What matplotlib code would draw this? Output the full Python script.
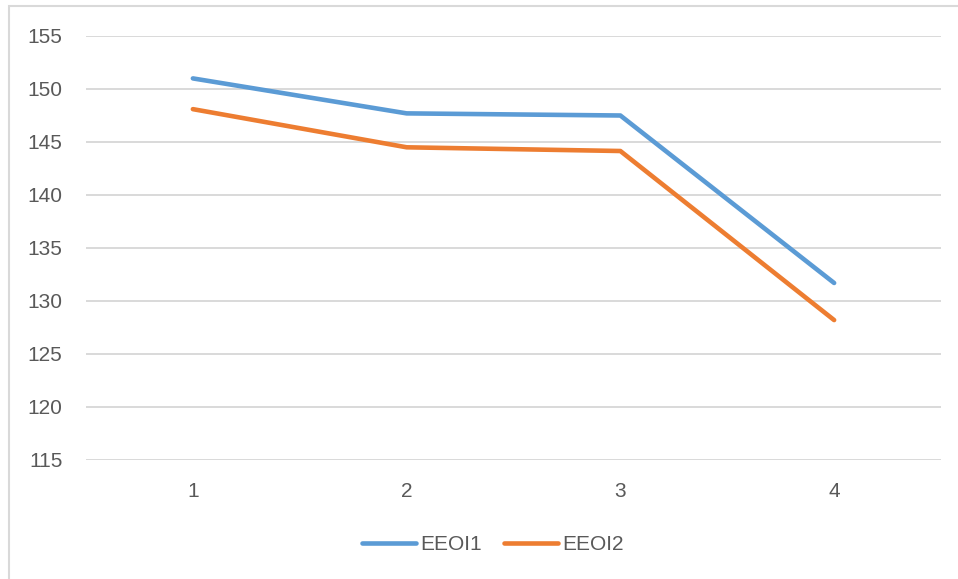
import matplotlib.pyplot as plt
from matplotlib.patches import Rectangle

# data
categories = ['1', '2', '3', '4']
eeoi1 = [151.0, 147.7, 147.5, 131.7]
eeoi2 = [148.1, 144.5, 144.15, 128.2]
series_names = ['EEOI1', 'EEOI2']
y_ticks = [115, 120, 125, 130, 135, 140, 145, 150, 155]

plt.rcParams['font.family'] = ['Liberation Sans', 'DejaVu Sans']

W, H = 958, 579
fig = plt.figure(figsize=(W / 100, H / 100), dpi=100)

# chart frame (light grey, runs off the right/bottom edge)
fig.patches.append(Rectangle((9 / W, -0.1), 1.2, 1 - 6 / H + 0.1,
                             transform=fig.transFigure, fill=False,
                             edgecolor='#D9D9D9', linewidth=1.5))

ax = fig.add_axes([86 / W, 1 - 460 / H, (941 - 86) / W, (460 - 36) / H])

x = range(1, len(categories) + 1)
ax.plot(x, eeoi1, color='#5B9BD5', linewidth=3.3, solid_capstyle='round',
        solid_joinstyle='round', label=series_names[0], zorder=3)
ax.plot(x, eeoi2, color='#ED7D31', linewidth=3.3, solid_capstyle='round',
        solid_joinstyle='round', label=series_names[1], zorder=3)

ax.set_xlim(0.5, len(categories) + 0.5)
ax.set_ylim(115, 155)
ax.set_xticks(list(x))
ax.set_xticklabels(categories)
ax.set_yticks(y_ticks)

ax.grid(axis='y', color='#D9D9D9', linewidth=1.4)
ax.set_axisbelow(True)
for s in ax.spines.values():
    s.set_visible(False)
ax.tick_params(axis='both', length=0, labelsize=15, colors='#595959')
ax.tick_params(axis='y', pad=17)
ax.tick_params(axis='x', pad=16)

fig.legend(loc='center', bbox_to_anchor=(493 / W, 1 - 545 / H), ncol=2,
           frameon=False, fontsize=15, handlelength=2.6, handletextpad=0.2,
           columnspacing=1.05, labelcolor='#595959')

fig.savefig('out.png', dpi=100)
